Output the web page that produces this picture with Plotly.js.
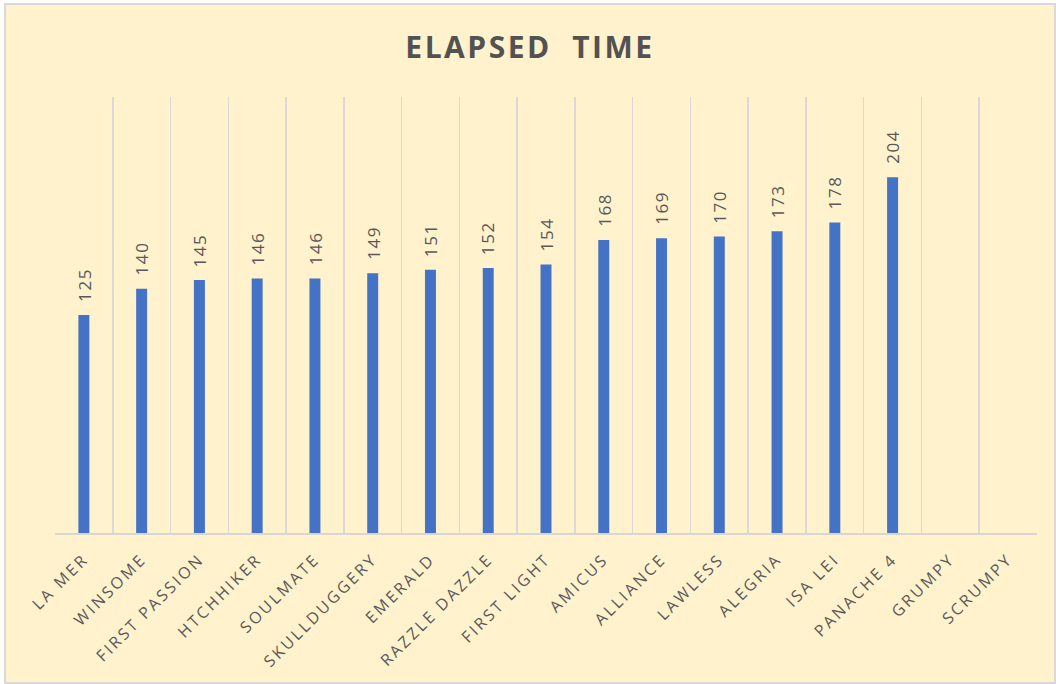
<!DOCTYPE html>
<html>
<head>
<meta charset="utf-8">
<script src="https://cdn.plot.ly/plotly-3.0.1.min.js"></script>
<style>
  html, body { margin: 0; padding: 0; background: #ffffff; }
  #frame { position: absolute; left: 4px; top: 3px; width: 1048px; height: 677px;
           border: 2px solid #d9d9d9; background: #FFF2CC; }
  #chart { width: 1048px; height: 677px; }
  .xtick text { letter-spacing: 2.6px; }
  .gtitle { letter-spacing: 2.5px; }
  .annotation-text { letter-spacing: 1.6px; }
</style>
</head>
<body>
<div id="frame"><div id="chart"></div></div>
<script>
const boats = ["LA MER", "WINSOME", "FIRST PASSION", "HTCHHIKER", "SOULMATE", "SKULLDUGGERY",
  "EMERALD", "RAZZLE DAZZLE", "FIRST LIGHT", "AMICUS", "ALLIANCE", "LAWLESS", "ALEGRIA",
  "ISA LEI", "PANACHE 4", "GRUMPY", "SCRUMPY"];
const elapsed = [125, 140, 145, 146, 146, 149, 151, 152, 154, 168, 169, 170, 173, 178, 204, null, null];

const gray = "#595959";
const trace = {
  type: "bar",
  x: boats,
  y: elapsed,
  marker: { color: "#4472C4" },
  hoverinfo: "x+y"
};

const annotations = boats.map((b, i) => elapsed[i] == null ? null : ({
  x: b, y: elapsed[i], xref: "x", yref: "y",
  text: String(elapsed[i]), showarrow: false, textangle: -90,
  yanchor: "bottom", xanchor: "center", yshift: 11,
  font: { family: "Open Sans, sans-serif", size: 17, color: gray }
})).filter(a => a);

const layout = {
  width: 1048, height: 677,
  paper_bgcolor: "#FFF2CC", plot_bgcolor: "#FFF2CC",
  margin: { l: 49, r: 17, t: 92, b: 149 },
  title: { text: "ELAPSED  TIME", x: 0.5, xanchor: "center", xref: "container",
           y: 1 - 42 / 677, yref: "container", yanchor: "middle",
           font: { family: "Open Sans, sans-serif", size: 30, color: "#525252", weight: "bold" } },
  xaxis: {
    type: "category",
    showline: true, linecolor: "#d6d6d6", linewidth: 1.5,
    showgrid: true, gridcolor: "#d9d9d9", gridwidth: 1.5,
    tickson: "boundaries", ticks: "", tickangle: -45,
    ticklabelstandoff: 9,
    tickfont: { family: "Open Sans, sans-serif", size: 16, color: gray },
    automargin: false
  },
  yaxis: {
    range: [0, 250], showgrid: false, showticklabels: false, zeroline: false,
    showline: false, fixedrange: true
  },
  bargap: 0.81,
  showlegend: false,
  annotations: annotations
};

Plotly.newPlot("chart", [trace], layout, { displayModeBar: false, staticPlot: true });
</script>
</body>
</html>
